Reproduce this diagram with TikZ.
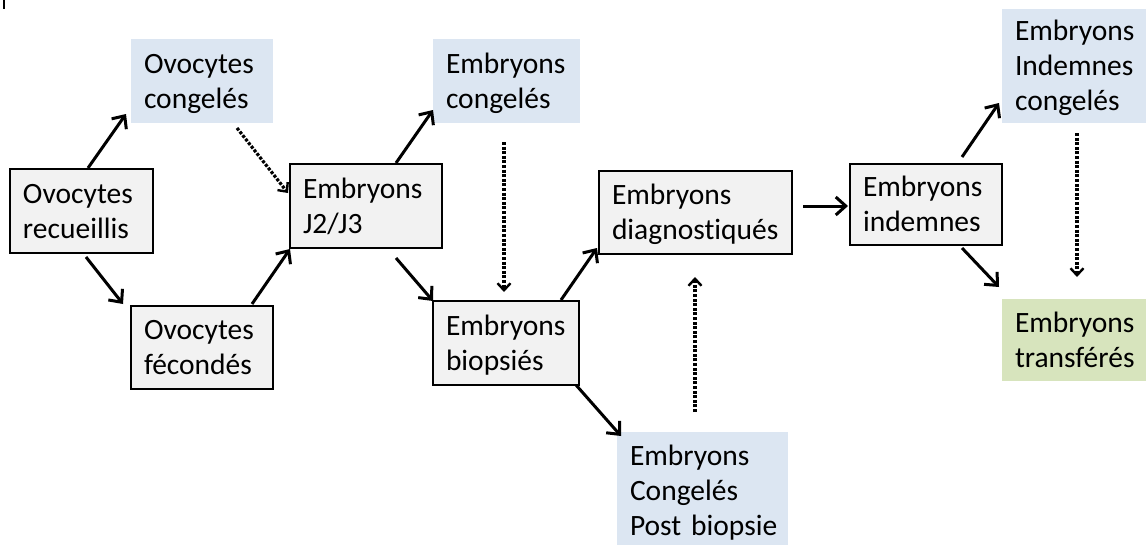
\documentclass[tikz,border=0pt]{standalone}
\usepackage{fontspec}
\setmainfont{Carlito}[Ligatures={NoCommon}]
\usetikzlibrary{arrows.meta}
\definecolor{boxgray}{HTML}{F2F2F2}
\definecolor{boxblue}{HTML}{DCE6F2}
\definecolor{boxgreen}{HTML}{D7E4BD}
\newcommand\mystrut{\rule[-8pt]{0pt}{35pt}}
\tikzset{
  basebox/.style={rectangle, inner xsep=13pt, inner ysep=0pt, outer sep=0pt,
    align=left, font=\fontsize{29.5}{35}\selectfont, anchor=center},
  graybox/.style={basebox, draw=black, line width=1.4pt, fill=boxgray},
  bluebox/.style={basebox, fill=boxblue},
  greenbox/.style={basebox, fill=boxgreen},
  arr/.style={line width=3pt, -{Straight Barb[length=10pt,width=18pt,line width=3pt]}},
  dotarr/.style={line width=3.2pt, dash pattern=on 3pt off 1.6pt,
    -{Straight Barb[length=7pt,width=13pt,line width=2.4pt]}}
}
\begin{document}
\begin{tikzpicture}[x=1pt,y=-1pt]
\useasboundingbox (0,0) rectangle (1146,544);
\draw[line width=1.5pt] (4,0) -- (4,9);
% boxes
\node[bluebox, minimum width=142, minimum height=84, text width=116] (oc) at (202,81) {\mystrut Ovocytes\\\mystrut congelés};
\node[graybox, minimum width=143, minimum height=84, text width=117] (or) at (81.5,211) {\mystrut Ovocytes\\\mystrut recueillis};
\node[graybox, minimum width=142, minimum height=83, text width=116] (of) at (202,347.5) {\mystrut Ovocytes\\\mystrut fécondés};
\node[graybox, minimum width=152, minimum height=84, text width=126] (ej) at (366,206) {\mystrut Embryons\\\mystrut J2/J3};
\node[bluebox, minimum width=147, minimum height=84, text width=121] (ec) at (506.5,81) {\mystrut Embryons\\\mystrut congelés};
\node[graybox, minimum width=146, minimum height=84, text width=120] (eb) at (506,343) {\mystrut Embryons\\\mystrut biopsiés};
\node[graybox, minimum width=193, minimum height=83, text width=167] (ed) at (695.5,212.5) {\mystrut Embryons\\\mystrut diagnostiqués};
\node[bluebox, minimum width=171, minimum height=117, text width=145] (ep) at (702.5,490.5) {\mystrut Embryons\\\mystrut Congelés\\\mystrut \mbox{Post biopsie}};
\node[graybox, minimum width=152, minimum height=81, text width=126] (ei) at (926,204.5) {\mystrut Embryons\\\mystrut indemnes};
\node[bluebox, minimum width=144, minimum height=114, text width=118] (eic) at (1074,66) {\mystrut Embryons\\\mystrut Indemnes\\\mystrut congelés};
\node[greenbox, minimum width=144, minimum height=82, text width=118] (et) at (1074,340) {\mystrut Embryons\\\mystrut transférés};
% connectors
\draw[arr] ([shift={(6.5,-1)}]or.north) -- ([shift={(-5,-9)}]oc.south west);
\draw[arr] ([shift={(4.5,4)}]or.south) -- ([shift={(-8,-2)}]of.north west);
\draw[arr] ([shift={(-21,-2)}]of.north east) -- ([shift={(0,1)}]ej.south west);
\draw[dotarr] ([shift={(35,5)}]oc.south) -- ([shift={(-2,-13)}]ej.west);
\draw[arr] ([shift={(30,-1)}]ej.north) -- ([shift={(0,-13)}]ec.south west);
\draw[arr] ([shift={(30,10)}]ej.south) -- ([shift={(0,0)}]eb.north west);
\draw[dotarr] ([shift={(-2.5,19)}]ec.south) -- ([shift={(-2,-9)}]eb.north);
\draw[arr] ([shift={(55,-1)}]eb.north) -- ([shift={(-2,-6)}]ed.south west);
\draw[arr] ([shift={(-3,0)}]eb.south east) -- ([shift={(4,4)}]ep.north west);
\draw[dotarr] ([shift={(-7.5,-20)}]ep.north) -- ([shift={(-0.5,23)}]ed.south);
\draw[arr] ([shift={(11,-6.5)}]ed.east) -- ([shift={(-2,1.5)}]ei.west);
\draw[arr] ([shift={(36,-7)}]ei.north) -- ([shift={(-3,-20)}]eic.south west);
\draw[arr] ([shift={(36,3)}]ei.south) -- ([shift={(-3,-12)}]et.north west);
\draw[dotarr] ([shift={(3,10)}]eic.south) -- ([shift={(3,-22)}]et.north);
\end{tikzpicture}
\end{document}
